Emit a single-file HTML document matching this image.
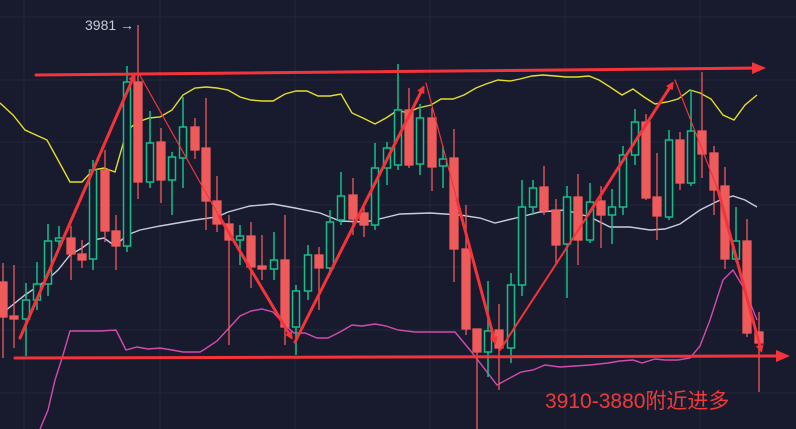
<!DOCTYPE html>
<html><head><meta charset="utf-8"><style>
html,body{margin:0;padding:0;background:#181b2d;}
svg{display:block}
</style></head><body>
<svg width="796" height="429" viewBox="0 0 796 429" xmlns="http://www.w3.org/2000/svg">
<defs>
<marker id="ah" markerWidth="8" markerHeight="8" refX="5" refY="4" orient="auto" markerUnits="userSpaceOnUse"><path d="M0,0 L8,4 L0,8 Z" fill="#f4343a"/></marker>
<marker id="ah2" markerWidth="14" markerHeight="12" refX="10" refY="6" orient="auto" markerUnits="userSpaceOnUse"><path d="M0,0 L14,6 L0,12 Z" fill="#f4343a"/></marker>
</defs>
<rect width="796" height="429" fill="#181b2d"/>
<g stroke="#232739" stroke-width="1">
<line x1="0" y1="17" x2="796" y2="17"/><line x1="0" y1="80" x2="796" y2="80"/><line x1="0" y1="142" x2="796" y2="142"/><line x1="0" y1="205" x2="796" y2="205"/><line x1="0" y1="267" x2="796" y2="267"/><line x1="0" y1="330" x2="796" y2="330"/><line x1="0" y1="393" x2="796" y2="393"/>
<line x1="24" y1="0" x2="24" y2="429"/><line x1="160" y1="0" x2="160" y2="429"/><line x1="295" y1="0" x2="295" y2="429"/><line x1="430" y1="0" x2="430" y2="429"/><line x1="565" y1="0" x2="565" y2="429"/><line x1="700" y1="0" x2="700" y2="429"/>
</g>
<polyline fill="none" stroke="#e6dc2a" stroke-width="1.4" points="0,103 13,115 25,130 47,140 58,160 70,182 82,182 93,170 104,168 115,172 127,130 138,122 149,118 160,117 172,110 183,95 195,88 206,87 217,88 228,90 240,97 251,100 262,101 273,101 285,94 296,91 307,91 318,96 330,96 341,94 352,113 363,118 375,124 386,118 398,110 407,113 418,108 431,105 441,99 453,99 464,95 476,88 486,84 498,80 510,81 520,79 532,76 543,75 555,76 566,77 577,77 589,76 599,80 610,87 622,95 633,89 644,97 655,104 667,102 678,99 690,90 700,93 711,99 723,115 734,120 745,105 757,95"/>
<polyline fill="none" stroke="#c9cbe0" stroke-width="1.4" points="0,315 25,295 47,280 58,270 70,255 82,248 93,240 104,238 115,246 127,235 140,230 160,226 195,220 217,217 228,212 250,206 273,204 295,208 320,213 340,221 364,222 375,220 400,214 430,213 460,215 480,218 495,223 520,217 540,212 565,210 590,217 610,227 630,227 650,230 665,229 680,224 700,210 720,200 733,196 745,200 757,207"/>
<polyline fill="none" stroke="#d24bb0" stroke-width="1.4" points="40,429 48,410 55,380 63,355 70,331 82,331 100,331 116,330 126,350 137,347 148,349 160,348 172,350 183,352 200,352 205,349 217,341 229,328 240,316 251,311 262,309 273,312 285,325 294,333 305,333 317,338 328,338 340,332 352,325 362,326 375,324 386,326 398,330 415,332 455,332 470,350 497,385 521,372 533,370 545,365 560,367 575,366 590,365 608,363 620,361 633,360 642,363 655,359 665,360 678,360 690,358 700,346 710,320 723,280 733,270 745,290 757,320"/>
<g stroke-width="1.3">
<g stroke="#ef5b5b" fill="#ef5b5b">
<line x1="3" y1="263" x2="3" y2="358"/><rect x="-1" y="282" width="8" height="35"/>
<line x1="14" y1="265" x2="14" y2="348"/><rect x="10" y="316" width="8" height="3"/>
<line x1="71" y1="226" x2="71" y2="280"/><rect x="67" y="238" width="8" height="16"/>
<line x1="82" y1="240" x2="82" y2="268"/><rect x="78" y="254" width="8" height="6"/>
<line x1="105" y1="150" x2="105" y2="242"/><rect x="101" y="170" width="8" height="61"/>
<line x1="116" y1="215" x2="116" y2="270"/><rect x="112" y="231" width="8" height="15"/>
<line x1="138" y1="25" x2="138" y2="199"/><rect x="134" y="82" width="8" height="100"/>
<line x1="161" y1="128" x2="161" y2="203"/><rect x="157" y="142" width="8" height="38"/>
<line x1="195" y1="118" x2="195" y2="159"/><rect x="191" y="127" width="8" height="23"/>
<line x1="206" y1="98" x2="206" y2="230"/><rect x="202" y="148" width="8" height="53"/>
<line x1="217" y1="176" x2="217" y2="232"/><rect x="213" y="201" width="8" height="23"/>
<line x1="229" y1="215" x2="229" y2="345"/><rect x="225" y="224" width="8" height="16"/>
<line x1="251" y1="222" x2="251" y2="288"/><rect x="247" y="236" width="8" height="31"/>
<line x1="262" y1="235" x2="262" y2="280"/><rect x="258" y="266" width="8" height="3"/>
<line x1="285" y1="215" x2="285" y2="345"/><rect x="281" y="260" width="8" height="67"/>
<line x1="319" y1="247" x2="319" y2="310"/><rect x="315" y="255" width="8" height="13"/>
<line x1="353" y1="178" x2="353" y2="235"/><rect x="349" y="195" width="8" height="24"/>
<line x1="364" y1="205" x2="364" y2="237"/><rect x="360" y="213" width="8" height="12"/>
<line x1="409" y1="88" x2="409" y2="168"/><rect x="405" y="110" width="8" height="55"/>
<line x1="432" y1="108" x2="432" y2="191"/><rect x="428" y="118" width="8" height="49"/>
<line x1="454" y1="129" x2="454" y2="282"/><rect x="450" y="158" width="8" height="91"/>
<line x1="466" y1="205" x2="466" y2="335"/><rect x="462" y="249" width="8" height="80"/>
<line x1="477" y1="330" x2="477" y2="429"/><rect x="473" y="329" width="8" height="23"/>
<line x1="499" y1="304" x2="499" y2="390"/><rect x="495" y="330" width="8" height="18"/>
<line x1="544" y1="166" x2="544" y2="215"/><rect x="540" y="187" width="8" height="24"/>
<line x1="556" y1="199" x2="556" y2="265"/><rect x="552" y="210" width="8" height="35"/>
<line x1="578" y1="174" x2="578" y2="265"/><rect x="574" y="197" width="8" height="43"/>
<line x1="601" y1="186" x2="601" y2="248"/><rect x="597" y="201" width="8" height="14"/>
<line x1="646" y1="114" x2="646" y2="200"/><rect x="642" y="122" width="8" height="76"/>
<line x1="657" y1="153" x2="657" y2="240"/><rect x="653" y="197" width="8" height="19"/>
<line x1="680" y1="132" x2="680" y2="190"/><rect x="676" y="140" width="8" height="43"/>
<line x1="702" y1="72" x2="702" y2="178"/><rect x="698" y="131" width="8" height="23"/>
<line x1="714" y1="146" x2="714" y2="215"/><rect x="710" y="153" width="8" height="37"/>
<line x1="725" y1="167" x2="725" y2="269"/><rect x="721" y="186" width="8" height="73"/>
<line x1="747" y1="219" x2="747" y2="337"/><rect x="743" y="241" width="8" height="92"/>
<line x1="759" y1="312" x2="759" y2="392"/><rect x="755" y="332" width="8" height="11"/>
</g>
<g stroke="#12c08c" fill="#181b2d" stroke-width="1.5">
<line x1="26" y1="283" x2="26" y2="356"/><rect x="22.5" y="300" width="7" height="19"/>
<line x1="37" y1="262" x2="37" y2="310"/><rect x="33.5" y="284" width="7" height="16"/>
<line x1="48" y1="224" x2="48" y2="296"/><rect x="44.5" y="241" width="7" height="43"/>
<line x1="59" y1="226" x2="59" y2="250"/><rect x="55.5" y="238" width="7" height="3"/>
<line x1="93" y1="160" x2="93" y2="270"/><rect x="89.5" y="170" width="7" height="89"/>
<line x1="127" y1="66" x2="127" y2="252"/><rect x="123.5" y="82" width="7" height="164"/>
<line x1="150" y1="111" x2="150" y2="188"/><rect x="146.5" y="143" width="7" height="39"/>
<line x1="172" y1="152" x2="172" y2="215"/><rect x="168.5" y="157" width="7" height="23"/>
<line x1="183" y1="97" x2="183" y2="188"/><rect x="179.5" y="127" width="7" height="31"/>
<line x1="240" y1="225" x2="240" y2="265"/><rect x="236.5" y="236" width="7" height="4"/>
<line x1="274" y1="232" x2="274" y2="280"/><rect x="270.5" y="260" width="7" height="9"/>
<line x1="296" y1="285" x2="296" y2="355"/><rect x="292.5" y="291" width="7" height="36"/>
<line x1="308" y1="245" x2="308" y2="300"/><rect x="304.5" y="255" width="7" height="36"/>
<line x1="330" y1="210" x2="330" y2="275"/><rect x="326.5" y="222" width="7" height="46"/>
<line x1="341" y1="172" x2="341" y2="225"/><rect x="337.5" y="196" width="7" height="24"/>
<line x1="375" y1="143" x2="375" y2="230"/><rect x="371.5" y="168" width="7" height="57"/>
<line x1="387" y1="142" x2="387" y2="185"/><rect x="383.5" y="148" width="7" height="20"/>
<line x1="398" y1="64" x2="398" y2="170"/><rect x="394.5" y="110" width="7" height="55"/>
<line x1="420" y1="104" x2="420" y2="175"/><rect x="416.5" y="118" width="7" height="46"/>
<line x1="443" y1="146" x2="443" y2="188"/><rect x="439.5" y="159" width="7" height="7"/>
<line x1="488" y1="281" x2="488" y2="377"/><rect x="484.5" y="331" width="7" height="21"/>
<line x1="511" y1="273" x2="511" y2="363"/><rect x="507.5" y="285" width="7" height="63"/>
<line x1="522" y1="180" x2="522" y2="296"/><rect x="518.5" y="207" width="7" height="78"/>
<line x1="533" y1="180" x2="533" y2="215"/><rect x="529.5" y="188" width="7" height="19"/>
<line x1="567" y1="186" x2="567" y2="298"/><rect x="563.5" y="197" width="7" height="47"/>
<line x1="590" y1="183" x2="590" y2="243"/><rect x="586.5" y="202" width="7" height="38"/>
<line x1="612" y1="189" x2="612" y2="244"/><rect x="608.5" y="207" width="7" height="8"/>
<line x1="623" y1="146" x2="623" y2="215"/><rect x="619.5" y="155" width="7" height="52"/>
<line x1="635" y1="109" x2="635" y2="165"/><rect x="631.5" y="122" width="7" height="33"/>
<line x1="669" y1="130" x2="669" y2="220"/><rect x="665.5" y="140" width="7" height="77"/>
<line x1="691" y1="90" x2="691" y2="186"/><rect x="687.5" y="131" width="7" height="52"/>
<line x1="736" y1="207" x2="736" y2="262"/><rect x="732.5" y="241" width="7" height="18"/>
</g>
</g>
<g stroke="#f4343a" fill="none" stroke-linecap="round">
<line x1="36" y1="75" x2="762" y2="68" stroke-width="3" marker-end="url(#ah2)"/>
<line x1="15" y1="358" x2="786" y2="356" stroke-width="3" marker-end="url(#ah2)"/>
<line x1="20" y1="338" x2="134" y2="76" stroke-width="3" marker-end="url(#ah)"/>
<line x1="138" y1="72" x2="219" y2="216" stroke-width="1.2"/>
<line x1="219" y1="216" x2="291" y2="337" stroke-width="3" marker-end="url(#ah)"/>
<line x1="295" y1="342" x2="423" y2="88" stroke-width="3" marker-end="url(#ah)"/>
<line x1="426" y1="83" x2="457" y2="200" stroke-width="1.2"/>
<line x1="457" y1="200" x2="495" y2="342" stroke-width="3" marker-end="url(#ah)"/>
<line x1="500" y1="350" x2="588" y2="215" stroke-width="2"/>
<line x1="588" y1="215" x2="672" y2="84" stroke-width="3" marker-end="url(#ah)"/>
<line x1="675" y1="80" x2="718" y2="190" stroke-width="1.2"/>
<line x1="718" y1="190" x2="761" y2="350" stroke-width="3" marker-end="url(#ah)"/>
</g>
<text x="85" y="30" font-family="Liberation Sans, sans-serif" font-size="14" fill="#c8ccd8">3981 →</text>
<text x="545" y="408" font-family="Liberation Sans, 'Noto Sans CJK SC', sans-serif" font-size="21" fill="#f03a3a">3910-3880附近进多</text>
</svg>
</body></html>
